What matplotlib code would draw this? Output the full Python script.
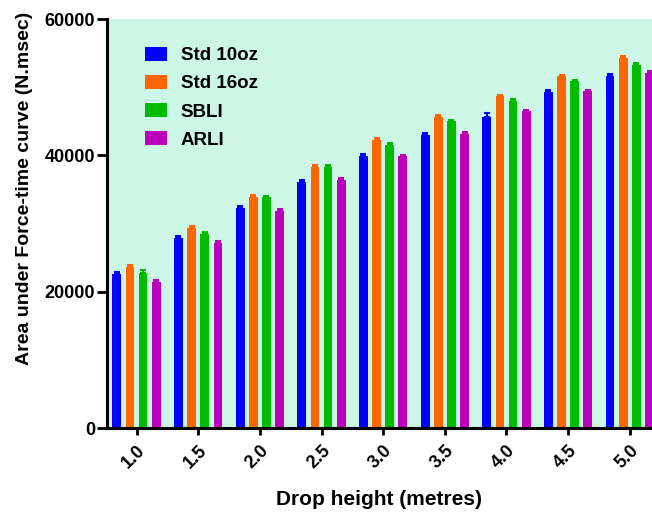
import matplotlib
matplotlib.use("Agg")
import matplotlib.pyplot as plt
import numpy as np

plt.rcParams['font.family'] = ['Liberation Sans', 'DejaVu Sans']
plt.rcParams['font.weight'] = 'bold'

heights = ["1.0", "1.5", "2.0", "2.5", "3.0", "3.5", "4.0", "4.5", "5.0"]
series_names = ["Std 10oz", "Std 16oz", "SBLI", "ARLI"]
std10 = [22640, 27880, 32280, 36040, 39960, 43040, 45700, 49300, 51590]
std16 = [23620, 29350, 33980, 38300, 42300, 45630, 48660, 51590, 54230]
sbli = [22830, 28460, 33840, 38240, 41570, 44990, 48030, 50860, 53310]
arli = [21510, 27230, 31930, 36430, 39850, 43180, 46460, 49390, 52090]
err10 = [250, 250, 250, 300, 250, 250, 500, 250, 300]
err16 = [250, 250, 250, 250, 250, 250, 250, 250, 300]
errsb = [400, 300, 250, 300, 250, 250, 250, 250, 300]
errar = [250, 250, 250, 250, 250, 250, 250, 250, 300]

colors = ['#0000ff', '#ff6600', '#00bb00', '#bb00bb']
data = [std10, std16, sbli, arli]
errs = [err10, err16, errsb, errar]

fig = plt.figure(figsize=(6.52, 5.14), dpi=100)
ax = fig.add_axes([0.164, 0.1667, 0.836, 0.7963])
ax.set_facecolor('#ccf6e6')

x = np.arange(len(heights))
step = 0.213
width = 0.142
for i, (vals, e, c, name) in enumerate(zip(data, errs, colors, series_names)):
    pos = x + (i - 1.5) * step
    ax.bar(pos, vals, width=width, color=c, label=name,
           yerr=[np.zeros(len(e)), e], error_kw=dict(ecolor=c, elinewidth=1.5, capsize=2.5, capthick=1.5))

ax.set_xlim(-0.48, 8.36)
ax.set_ylim(0, 60000)
ax.set_yticks([0, 20000, 40000, 60000])
ax.set_xticks(x)
ax.set_xticklabels(heights, rotation=45, ha='right', rotation_mode='anchor')
for s in ['top', 'right']:
    ax.spines[s].set_visible(False)
for s in ['left', 'bottom']:
    ax.spines[s].set_linewidth(2.2)
ax.tick_params(axis='both', width=2, labelsize=13, direction='out')
ax.tick_params(axis='y', length=7, pad=1.5)
ax.tick_params(axis='x', length=5, pad=5)
ax.set_xlabel("Drop height (metres)", fontsize=15, fontweight='bold', labelpad=13)
ax.set_ylabel("Area under Force-time curve (N.msec)", fontsize=14, fontweight='bold')
ax.yaxis.set_label_coords(-0.136, 0.587)

leg = ax.legend(loc='upper left', bbox_to_anchor=(0.057, 0.95), frameon=False,
                fontsize=13.5, handlelength=1.17, handleheight=0.75, labelspacing=0.57,
                handletextpad=0.7, borderaxespad=0)

fig.savefig("out.png", dpi=100)
